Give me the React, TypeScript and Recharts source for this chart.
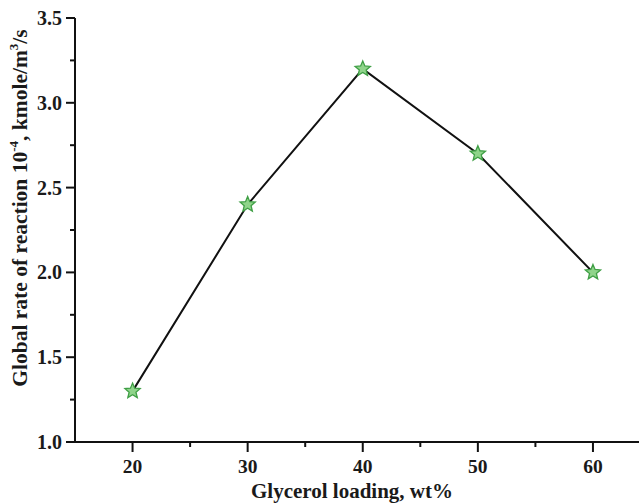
import { LineChart, Line, XAxis, YAxis } from "recharts";

const loading = [20, 30, 40, 50, 60];
const rate = [1.3, 2.4, 3.2, 2.7, 2.0];
const xTicks = [20, 25, 30, 35, 40, 45, 50, 55, 60];
const yTicks = [1.0, 1.25, 1.5, 1.75, 2.0, 2.25, 2.5, 2.75, 3.0, 3.25, 3.5];

const data = loading.map((x, i) => ({ x, y: rate[i] }));

const font = "'Liberation Serif', 'Times New Roman', serif";

const XTick = (props: any) => {
  const { x, y, payload } = props;
  const major = payload.value % 10 === 0;
  return (
    <g>
      <line x1={x} x2={x} y1={y} y2={y + (major ? 10 : 5)} stroke="#111" strokeWidth={2} />
      {major && (
        <text x={x} y={y + 31} textAnchor="middle" fontFamily={font} fontWeight="bold" fontSize={19.5} fill="#1a1a1a">
          {payload.value}
        </text>
      )}
    </g>
  );
};

const YTick = (props: any) => {
  const { x, y, payload } = props;
  const major = Math.abs(payload.value * 2 - Math.round(payload.value * 2)) < 1e-6;
  return (
    <g>
      <line x1={x} x2={x - (major ? 9 : 5)} y1={y} y2={y} stroke="#111" strokeWidth={2} />
      {major && (
        <text x={x - 13} y={y + 7} textAnchor="end" fontFamily={font} fontWeight="bold" fontSize={20} fill="#1a1a1a">
          {payload.value.toFixed(1)}
        </text>
      )}
    </g>
  );
};

const Star = (props: any) => {
  const { cx, cy } = props;
  if (cx == null || cy == null) return null;
  const pts: string[] = [];
  for (let i = 0; i < 10; i++) {
    const r = i % 2 === 0 ? 8 : 3.6;
    const a = -Math.PI / 2 + (i * Math.PI) / 5;
    pts.push(`${cx + r * Math.cos(a)},${cy + r * Math.sin(a)}`);
  }
  return <polygon points={pts.join(" ")} fill="#8fd48a" stroke="#3f9f45" strokeWidth={1.3} />;
};

export default function App() {
  return (
    <div style={{ position: "absolute", left: 0, top: 0, width: 639, height: 503, background: "#fff" }}>
      <LineChart width={639} height={503} data={data} margin={{ top: 18, right: 0, bottom: 0, left: 0 }}>
        <XAxis
          dataKey="x"
          type="number"
          domain={[15, 64]}
          ticks={xTicks}
          interval={0}
          tickSize={0}
          tickMargin={0}
          tickLine={false}
          height={61}
          axisLine={{ stroke: "#111", strokeWidth: 2 }}
          tick={<XTick />}
          allowDataOverflow
        />
        <YAxis
          type="number"
          domain={[1, 3.5]}
          ticks={yTicks}
          interval={0}
          tickSize={0}
          tickMargin={0}
          tickLine={false}
          width={75}
          axisLine={{ stroke: "#111", strokeWidth: 2 }}
          tick={<YTick />}
        />
        <Line
          dataKey="y"
          type="linear"
          stroke="#111"
          strokeWidth={2}
          dot={<Star />}
          activeDot={false}
          isAnimationActive={false}
        />
        <text x={352} y={498} textAnchor="middle" fontFamily={font} fontWeight="bold" fontSize={21} fill="#1a1a1a">
          Glycerol loading, wt%
        </text>
        <text
          transform="translate(27,208) rotate(-90)"
          textAnchor="middle"
          fontFamily={font}
          fontWeight="bold"
          fontSize={21.5}
          fill="#1a1a1a"
        >
          Global rate of reaction 10
          <tspan dy={-9} fontSize={13}>-4</tspan>
          <tspan dy={9}>, kmole/m</tspan>
          <tspan dy={-9} fontSize={13}>3</tspan>
          <tspan dy={9}>/s</tspan>
        </text>
      </LineChart>
    </div>
  );
}
